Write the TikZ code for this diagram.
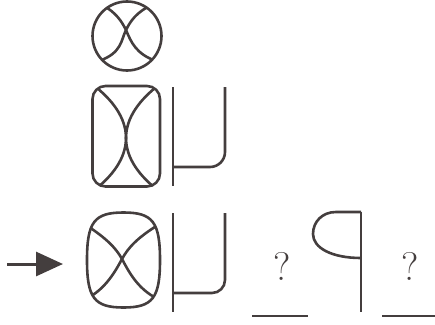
\documentclass[tikz,border=0pt]{standalone}
\usepackage{fontspec}
\usepackage{tikz}
\usetikzlibrary{positioning,calc}
\usetikzlibrary{arrows.meta}
\definecolor{InkGray}{RGB}{68,62,62}
\tikzset{
	fig/.style={draw=InkGray,line width=2.6pt},
	blank/.style={draw=InkGray,line width=1.1pt},
	qmark/.style={text=InkGray,font=\fontsize{40}{40}\selectfont,inner sep=0pt},
	pointer/.style={draw=InkGray,fill=InkGray,line width=3pt,-{Triangle[length=27pt,width=24pt]}},
}

\begin{document}
\begin{tikzpicture}[x=1pt,y=-1pt]
	\useasboundingbox (0,0) rectangle (435,324);
	% top row: circle
	\coordinate (c1) at (127,36);
	\draw[fig] (c1) circle[radius=34.5];
	\begin{scope}
		\clip (c1) circle[radius=34.5];
		\draw[fig] (102,5) .. controls (116,12) and (122,22) .. (126,30) .. controls (131,42) and (136,54) .. (156,61);
		\draw[fig] (152,5) .. controls (136,12) and (130,22) .. (126,30) .. controls (121,40) and (122,53) .. (99,61);
	\end{scope}
	% middle row: rounded box and hook
	\draw[fig,rounded corners=13pt] (92.5,86) rectangle (160,186.5);
	\begin{scope}
		\clip[rounded corners=13pt] (92.5,86) rectangle (160,186.5);
		\draw[fig] (92,84) .. controls (113,100) and (126,118) .. (126,138) .. controls (126,158) and (139,176) .. (160,192);
		\draw[fig] (160,84) .. controls (139,100) and (126,118) .. (126,138) .. controls (126,158) and (113,176) .. (92,192);
	\end{scope}
	\draw[fig] (173,87) -- (173,186);
	\draw[fig,rounded corners=15pt] (225,87) -- (225,167) -- (173,167);
	% bottom row
	\coordinate (tail) at (7,264);
	\coordinate (tip) at (63,264);
	\draw[pointer] (tail) -- (tip);
	\path[fig] (160,260) .. controls (160,222) and (152.7,212.5) .. (123.5,212.5)
		.. controls (94.3,212.5) and (87,222) .. (87,260)
		.. controls (87,298) and (94.3,307.5) .. (123.5,307.5)
		.. controls (152.7,307.5) and (160,298) .. cycle;
	\begin{scope}
		\clip (160,260) .. controls (160,222) and (152.7,212.5) .. (123.5,212.5)
			.. controls (94.3,212.5) and (87,222) .. (87,260)
			.. controls (87,298) and (94.3,307.5) .. (123.5,307.5)
			.. controls (152.7,307.5) and (160,298) .. cycle;
		\draw[fig] (86,225) .. controls (106,238) and (116,248) .. (122,259) .. controls (128,270) and (137,289) .. (158,299);
		\draw[fig] (158,225) .. controls (137,238) and (128,248) .. (122,259) .. controls (116,270) and (106,289) .. (86,299);
	\end{scope}
	\draw[fig] (173,213) -- (173,312);
	\draw[fig,rounded corners=13pt] (225,213) -- (225,293) -- (173,293);
	% answer slots and flag
	\node[qmark] (q1) at (282,266) {?};
	\node[qmark] (q2) at (410,266) {?};
	\draw[blank] (252,316) -- (308,316);
	\draw[blank] (382,316) -- (435,316);
	\draw[fig] (361,212) -- (361,312);
	\draw[fig] (361,212) -- (336,212) .. controls (322,212) and (313,222) .. (313,234)
		.. controls (313,248) and (332,258) .. (361,258);
\end{tikzpicture}
\end{document}
